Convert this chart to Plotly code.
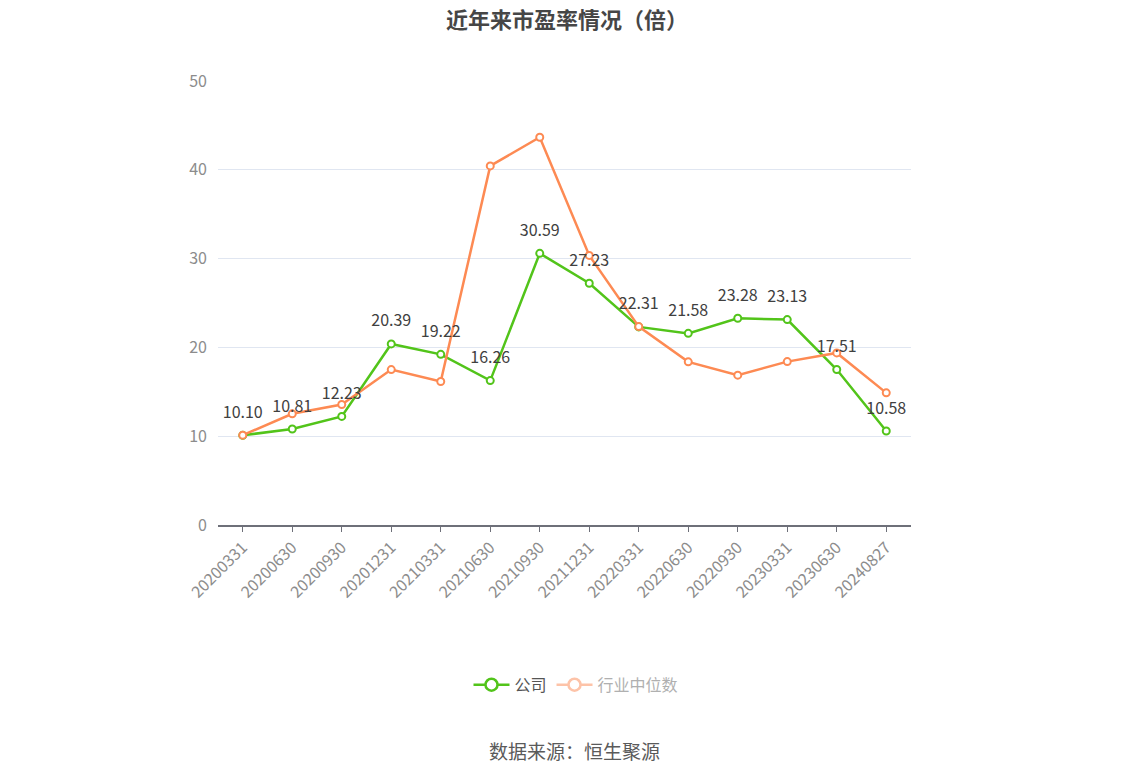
import plotly.graph_objects as go

categories = ["20200331", "20200630", "20200930", "20201231", "20210331", "20210630",
              "20210930", "20211231", "20220331", "20220630", "20220930", "20230331",
              "20230630", "20240827"]
company_pe = [10.10, 10.81, 12.23, 20.39, 19.22, 16.26, 30.59, 27.23, 22.31, 21.58,
              23.28, 23.13, 17.51, 10.58]
industry_median_pe = [10.12, 12.52, 13.57, 17.50, 16.16, 40.44, 43.67, 30.36, 22.34, 18.37,
                      16.87, 18.40, 19.38, 14.88]
y_ticks = [0, 10, 20, 30, 40, 50]

GREEN = "#52c41a"
ORANGE = "#fd8a53"
FONT = "Noto Sans CJK SC, Noto Sans, sans-serif"

fig = go.Figure()

# company line
fig.add_trace(go.Scatter(
    x=categories, y=company_pe, mode="lines+markers", name="公司",
    line=dict(color=GREEN, width=2.5),
    marker=dict(symbol="circle", size=7, color="white", line=dict(color=GREEN, width=2)),
    showlegend=False, hoverinfo="x+y",
))
# industry median line
fig.add_trace(go.Scatter(
    x=categories, y=industry_median_pe, mode="lines+markers", name="行业中位数",
    line=dict(color=ORANGE, width=2.5),
    marker=dict(symbol="circle", size=7, color="white", line=dict(color=ORANGE, width=2)),
    showlegend=False, hoverinfo="x+y",
))
# company labels on top (invisible markers give the label offset)
fig.add_trace(go.Scatter(
    x=categories, y=company_pe, mode="markers+text",
    marker=dict(size=20, opacity=0),
    text=[f"{v:.2f}" for v in company_pe], textposition="top center",
    textfont=dict(family=FONT, size=16, color="#404040"),
    showlegend=False, hoverinfo="skip",
))
# legend entries
fig.add_trace(go.Scatter(
    x=[None], y=[None], mode="lines+markers", name="<span style='color:#555'>公司</span>",
    line=dict(color=GREEN, width=2.5),
    marker=dict(symbol="circle", size=12, color="white", line=dict(color=GREEN, width=2.5)),
))
fig.add_trace(go.Scatter(
    x=[None], y=[None], mode="lines+markers",
    name="<span style='color:#b0b0b0'>行业中位数</span>",
    line=dict(color="#fdc3a8", width=2.5),
    marker=dict(symbol="circle", size=12, color="white", line=dict(color="#fdc3a8", width=2.5)),
))

fig.update_layout(
    width=1147, height=776,
    margin=dict(l=218, r=236, t=81, b=251),
    paper_bgcolor="white", plot_bgcolor="white",
    font=dict(family=FONT, color="#333"),
    title=dict(text="<b>近年来市盈率情况（倍）</b>", x=567 / 1147, xanchor="center",
               y=1 - 20 / 776, yanchor="middle", yref="container",
               font=dict(family=FONT, size=22, color="#464646")),
    legend=dict(orientation="h", x=(576 - 218) / 693, xanchor="center", y=-0.36, yanchor="middle",
                font=dict(family=FONT, size=16, color="#555"), itemwidth=36,
                bgcolor="rgba(0,0,0,0)"),
    showlegend=True,
    annotations=[dict(text="数据来源：恒生聚源", xref="paper", yref="paper",
                      x=(574 - 218) / 693, y=(525 - 750) / 444, xanchor="center", yanchor="middle",
                      showarrow=False, font=dict(family=FONT, size=19, color="#5a5a5a"))],
)

fig.update_xaxes(
    type="category", categoryorder="array", categoryarray=categories,
    range=[-0.5, len(categories) - 0.5],
    showgrid=False, showline=True, linecolor="#6e7079", linewidth=1.5,
    ticks="outside", ticklen=5, tickcolor="#6e7079", tickwidth=1,
    tickangle=-45, tickfont=dict(family=FONT, size=16, color="#8c8c8c"),
    zeroline=False,
)
fig.update_yaxes(
    range=[0, 50], tickmode="array", tickvals=y_ticks,
    showgrid=True, gridcolor="#e0e6f1", gridwidth=1,
    showline=False, zeroline=False, ticks="",
    tickfont=dict(family=FONT, size=16, color="#8c8c8c"),
    ticklabelstandoff=10,
)

fig.write_html("out.html")
